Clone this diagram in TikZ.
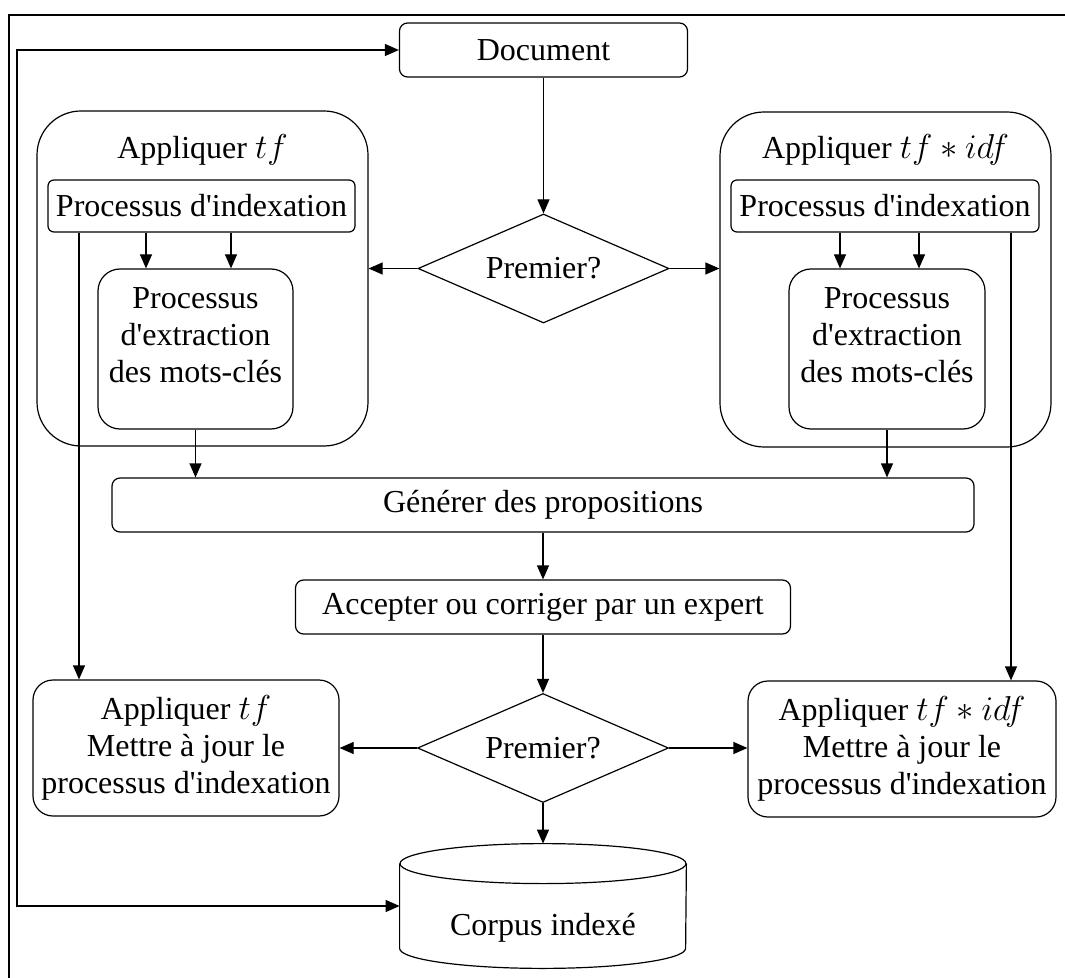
\documentclass[tikz,border=0pt]{standalone}
\usepackage{fontspec}
\setmainfont{Liberation Serif}
\usepackage{tikz}
\usetikzlibrary{shapes, arrows.meta, positioning, calc}

\begin{document}
\begin{tikzpicture}[x=0.5pt, y=-0.5pt,
    every node/.style={font=\fontsize{16}{18.5}\selectfont},
    box/.style={draw, line width=0.6pt, rounded corners=4pt, align=center, inner sep=0pt},
    decision/.style={draw, line width=0.6pt, diamond, aspect=2.3, inner sep=0pt, minimum width=125.5pt, minimum height=54.5pt},
    txt/.style={align=center, inner sep=0pt},
    arr/.style={line width=0.6pt, -{Triangle[length=7pt, width=6pt]}}]
  \useasboundingbox (0,0) rectangle (1065,978);
  \draw[line width=1pt] (8.5,978) -- (8.5,15) -- (1065,15);

  \node[box, minimum width=144pt, minimum height=27pt] (doc) at (543.5,50) {Document};
  \node[decision] (d1) at (543.5,268.5) {Premier?};

  % tf
  \node[box, rounded corners=22pt, minimum width=165.5pt, minimum height=167.5pt] (tfL) at (202.5,278.5) {};
  \node[txt] (tfLt) at (202.5,150) {Appliquer $tf$};
  \node[box, rounded corners=3pt, minimum width=153.5pt, minimum height=26pt] (idxL) at (201.5,206) {Processus d\textquotesingle indexation};
  \node[box, rounded corners=11pt, minimum width=97.5pt, minimum height=80pt] (extL) at (195.5,349) {};
  \node[txt] (extLt) at (195.5,335) {Processus\\d\textquotesingle extraction\\des mots-clés};

  % tf * idf
  \node[box, rounded corners=22pt, minimum width=165.5pt, minimum height=167.5pt] (tfR) at (885.5,279.5) {};
  \node[txt] (tfRt) at (885.5,150) {Appliquer $tf \ast idf$};
  \node[box, rounded corners=3pt, minimum width=154pt, minimum height=26pt] (idxR) at (885,206) {Processus d\textquotesingle indexation};
  \node[box, rounded corners=11pt, minimum width=98pt, minimum height=80pt] (extR) at (887,349) {};
  \node[txt] (extRt) at (887,335) {Processus\\d\textquotesingle extraction\\des mots-clés};

  \node[box, minimum width=431pt, minimum height=27pt] (gen) at (543,505) {Générer des propositions};
  \node[box, minimum width=247.5pt, minimum height=27pt] (acc) at (543,607) {Accepter ou corriger par un expert};
  \node[decision] (d2) at (543,748) {Premier?};
  \node[box, rounded corners=10pt, minimum width=153pt, minimum height=68pt] (updL) at (186,748) {Appliquer $tf$\\Mettre à jour le\\processus d\textquotesingle indexation};
  \node[box, rounded corners=10pt, minimum width=154pt, minimum height=68pt] (updR) at (902,749) {Appliquer $tf \ast idf$\\Mettre à jour le\\processus d\textquotesingle indexation};

  % corpus
  \node[minimum width=143pt, minimum height=62pt, inner sep=0pt] (corpus) at (543,906) {};
  \draw[line width=0.6pt] ([yshift=-10pt]corpus.north) ellipse [x radius=71.5pt, y radius=10pt];
  \draw[line width=0.6pt] ([yshift=-10pt]corpus.north west) -- ([yshift=10pt]corpus.south west)
    arc[start angle=180, end angle=360, x radius=71.5pt, y radius=10pt] -- ([yshift=-10pt]corpus.north east);
  \node[txt] (corpusT) at (543,928) {Corpus indexé};

  \draw[arr] (doc) -- (d1);
  \draw[arr] (d1.west) -- (tfL.east |- d1.west);
  \draw[arr] (d1.east) -- (tfR.west |- d1.east);
  \draw[arr] ([xshift=-27.75pt]idxL.south) -- ([xshift=-27.75pt]idxL.south |- extL.north);
  \draw[arr] ([xshift=14.75pt]idxL.south) -- ([xshift=14.75pt]idxL.south |- extL.north);
  \draw[arr] ([xshift=-61.25pt]idxL.south) -- ([xshift=-61.25pt]idxL.south |- updL.north);
  \draw[arr] ([xshift=-22.5pt]idxR.south) -- ([xshift=-22.5pt]idxR.south |- extR.north);
  \draw[arr] ([xshift=17pt]idxR.south) -- ([xshift=17pt]idxR.south |- extR.north);
  \draw[arr] ([xshift=63pt]idxR.south) -- ([xshift=63pt]idxR.south |- updR.north);
  \draw[arr] (extL.south) -- (extL.south |- gen.north);
  \draw[arr] (extR.south) -- (extR.south |- gen.north);
  \draw[arr] (gen) -- (acc);
  \draw[arr] (acc) -- (d2);
  \draw[arr] (d2.west) -- (updL.east |- d2.west);
  \draw[arr] (d2.east) -- (updR.west |- d2.east);
  \draw[arr] (d2.south) -- (d2.south |- corpus.north);
  \coordinate (fb) at (17,500);
  \draw[arr, {Triangle[length=7pt, width=6pt]}-{Triangle[length=7pt, width=6pt]}] (corpus.west) -| (fb) |- (doc.west);
\end{tikzpicture}
\end{document}
